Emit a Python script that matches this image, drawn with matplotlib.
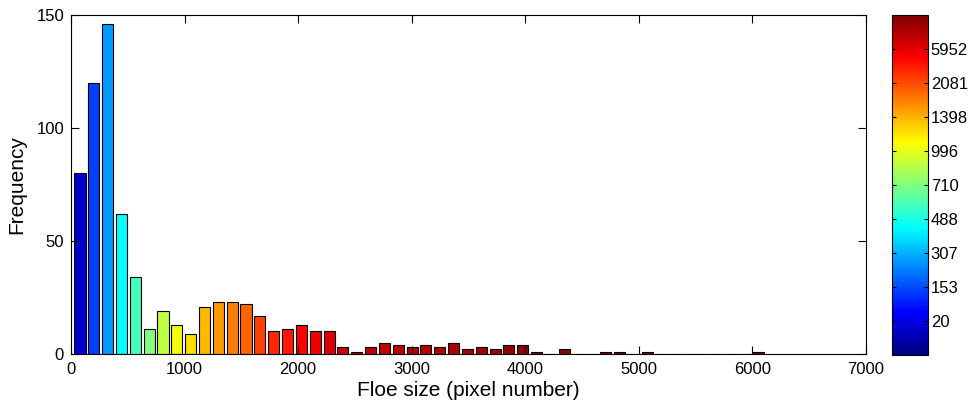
import numpy as np
import matplotlib as mpl
mpl.use("Agg")
from matplotlib import pyplot as plt
from matplotlib.colors import ListedColormap, Normalize

plt.rcParams['font.family'] = ['Liberation Sans', 'DejaVu Sans']

# histogram of floe sizes: 50 bins between min and max floe size
size_min, size_max = 18, 6110
counts = [80, 120, 146, 62, 34, 11, 19, 13, 9, 21,
          23, 23, 22, 17, 10, 11, 13, 10, 10, 3,
          1, 3, 5, 4, 3, 4, 3, 5, 2, 3,
          2, 4, 4, 1, 0, 2, 0, 0, 1, 1,
          0, 1, 0, 0, 0, 0, 0, 0, 0, 1]

# colour level (0..1 along jet), anchored at floe sizes
level_size = [79, 201, 323, 444, 566, 688, 810, 932, 1054, 1175, 1297, 1419,
              1541, 1663, 1785, 1906, 2027, 2149, 2271, 2393, 2636, 3500, 4000, 6049]
level_value = [0.075, 0.19, 0.275, 0.375, 0.44, 0.5, 0.56, 0.61, 0.66, 0.695, 0.725, 0.75,
               0.775, 0.81, 0.835, 0.85, 0.875, 0.89, 0.91, 0.925, 0.93, 0.96, 0.985, 1.0]

cbar_ticks = [0.1, 0.2, 0.3, 0.4, 0.5, 0.6, 0.7, 0.8, 0.9]
cbar_labels = ['20', '153', '307', '488', '710', '996', '1398', '2081', '5952']


def matlab_jet(n=256):
    x = np.linspace(0, 1, n)
    r = np.clip(1.5 - np.abs(4 * x - 3), 0, 1)
    g = np.clip(1.5 - np.abs(4 * x - 2), 0, 1)
    b = np.clip(1.5 - np.abs(4 * x - 1), 0, 1)
    return ListedColormap(np.column_stack([r, g, b]))


cmap = matlab_jet()
edges = np.linspace(size_min, size_max, len(counts) + 1)
centers = (edges[:-1] + edges[1:]) / 2
width = 0.8 * (edges[1] - edges[0])
colours = cmap(np.interp(centers, level_size, level_value))

fig = plt.figure(figsize=(9.78, 4.11), dpi=100)
ax = fig.add_axes([0.0726, 0.1387, 0.8129, 0.8248])

ax.bar(centers, counts, width=width, color=colours, edgecolor='black', linewidth=0.8)

ax.set_xlim(0, 7000)
ax.set_ylim(0, 150)
ax.set_xticks(np.arange(0, 7001, 1000))
ax.set_yticks([0, 50, 100, 150])
ax.tick_params(direction='in', length=6, width=0.8, top=True, right=True, labelsize=12)
ax.tick_params(axis='x', pad=6)
ax.tick_params(axis='y', pad=5)
for s in ax.spines.values():
    s.set_linewidth(0.8)

ax.set_xlabel('Floe size (pixel number)', fontsize=15, labelpad=3)
ax.set_ylabel('Frequency', fontsize=15, labelpad=7)

# colorbar
cax = fig.add_axes([0.912, 0.136, 0.0368, 0.8275])
cb = mpl.colorbar.ColorbarBase(cax, cmap=cmap, norm=Normalize(0, 1), orientation='vertical')
cb.set_ticks(cbar_ticks)
cb.set_ticklabels(cbar_labels)
cb.outline.set_linewidth(0.8)
cax.tick_params(direction='in', length=3, width=0.8, left=True, right=True, labelsize=12, pad=2)

fig.savefig('out.png', dpi=100)
